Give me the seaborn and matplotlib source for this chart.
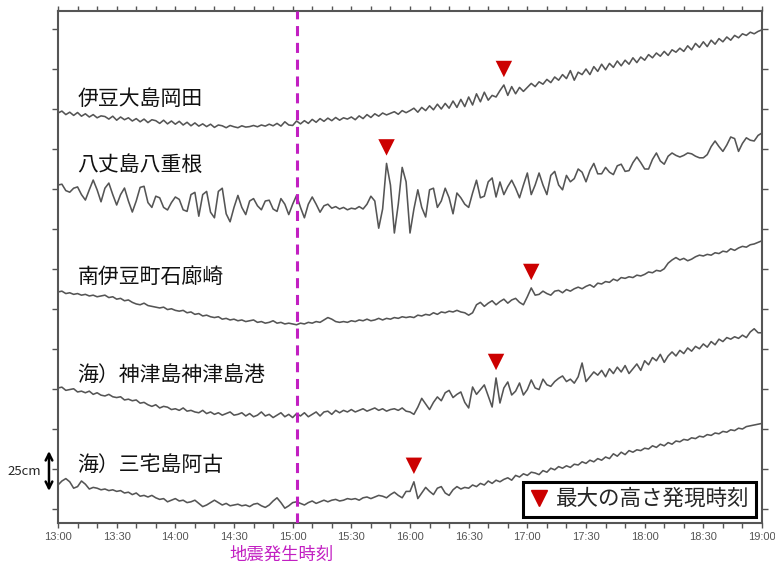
import numpy as np
import pandas as pd
import seaborn as sns
import matplotlib.pyplot as plt
from matplotlib.ticker import MultipleLocator
from matplotlib.lines import Line2D

# sample times: minutes after 13:00, every 2 minutes
minutes = np.arange(0, 361, 2)

stations = ["伊豆大島岡田", "八丈島八重根", "南伊豆町石廊崎", "海）神津島神津島港", "海）三宅島阿古"]

# tide level relative to 13:00 (cm)
okada = [
    0, 1.2, -1.0, 0.5, -1.5, 0.3, -2.0, -0.5, -2.5, -1.0, -3.0, -1.8, -2.2, -3.8, -2.0,
    -4.5, -2.5, -4.2, -3.0, -5.0, -3.5, -5.5, -3.8, -6.0, -4.2, -4.8, -6.5, -4.5, -6.8, -5.0,
    -7.0, -5.2, -7.5, -5.8, -8.0, -6.2, -8.2, -6.8, -8.5, -7.0, -9.0, -7.5, -8.0, -9.2, -7.8,
    -8.6, -9.2, -8.0, -8.8, -8.5, -7.8, -8.6, -7.5, -8.2, -7.0, -8.0, -6.5, -8.2, -5.5, -7.5,
    -7.8, -5.0, -6.8, -4.8, -6.5, -4.0, -5.8, -3.5, -5.2, -3.2, -4.8, -2.8, -4.5, -3.0, -3.8,
    -2.5, -4.2, -1.8, -3.5, -1.0, -2.8, -0.5, -2.0, 0.0, -1.2, -0.2, 0.8, -0.8, 1.5, 0.2,
    1.5, 3.0, 0.5, 3.5, 1.5, 4.5, 2.0, 5.5, 2.5, 6.0, 3.0, 7.5, 3.5, 8.5, 4.0,
    10.0, 5.0, 12.0, 7.0, 13.0, 8.0, 11.0, 10.0, 14.0, 17.5, 11.0, 16.5, 12.0, 16.0, 13.5,
    16.0, 18.5, 16.5, 19.5, 18.0, 21.0, 19.0, 22.5, 20.5, 24.0, 21.5, 26.5, 20.5, 25.5, 24.0,
    27.5, 24.0, 29.0, 26.0, 30.5, 27.0, 31.0, 28.5, 32.5, 29.5, 33.0, 30.5, 34.5, 31.5, 35.0,
    33.0, 36.5, 34.5, 37.5, 35.5, 38.5, 36.0, 39.5, 38.0, 40.5, 38.5, 42.0, 39.5, 43.5, 41.0,
    44.5, 41.5, 45.5, 43.0, 46.5, 44.5, 47.5, 45.5, 48.5, 47.0, 49.5, 48.5, 50.5, 49.5, 51.0,
    52.0,
]
yaene = [
    0, 0.5, -3.5, -4.5, -2.0, -1.2, -6.0, -9.4, -3.0, 3.1, -3.0, -10.5, -2.0, 1.2, -6.0,
    -12.5, -6.0, -1.9, -10.0, -16.9, -10.0, -1.5, -0.8, -11.0, -14.0, -7.0, -8.0, -14.0, -15.6, -11.0,
    -7.5, -9.0, -15.5, -16.5, -6.0, -4.6, -19.5, -6.0, -4.0, -17.0, -20.5, -4.0, -2.0, -18.0, -23.0,
    -14.0, -6.5, -14.0, -18.5, -10.0, -8.5, -13.0, -15.5, -10.0, -9.5, -15.0, -16.5, -8.5, -12.0, -18.5,
    -12.0, -6.5, -14.0, -20.5, -12.0, -7.5, -12.0, -17.0, -13.0, -12.0, -14.5, -13.5, -15.0, -14.0, -15.5,
    -14.5, -15.0, -13.5, -15.0, -12.0, -7.0, -10.0, -27.0, -15.0, 13.5, 0.0, -30.0, -12.0, 11.0, 2.0,
    -30.0, -15.0, -3.0, -14.0, -20.0, -3.0, -2.0, -14.0, -10.0, -2.0, -8.0, -18.0, -5.0, -8.0, -12.0,
    -14.0, -5.0, 3.0, -8.0, -7.0, 2.0, 4.4, -7.5, 1.9, -6.0, -1.0, 3.0, -2.0, -8.0, 0.0,
    7.5, -6.0, 0.0, 7.5, 0.0, -6.0, 6.0, 8.5, 0.0, -3.0, 6.0, 2.0, 4.0, 10.0, 8.0,
    2.0, 9.0, 13.5, 7.0, 7.0, 11.0, 8.0, 6.5, 12.0, 13.0, 8.5, 9.0, 14.0, 17.5, 14.0,
    10.0, 10.0, 16.0, 20.0, 15.0, 13.0, 18.0, 20.0, 18.5, 17.5, 18.5, 20.0, 19.5, 18.0, 17.0,
    17.0, 19.0, 24.0, 27.5, 24.0, 21.0, 25.0, 30.0, 29.0, 21.0, 26.0, 29.5, 28.0, 27.5, 31.0,
    32.5,
]
irozaki = [
    0, 0.5, -1.0, -0.5, -1.5, -1.0, -2.0, -1.5, -2.5, -2.0, -3.0, -2.5, -2.0, -3.5, -3.0,
    -4.5, -4.0, -5.5, -5.0, -6.5, -7.5, -8.0, -7.0, -8.5, -9.0, -9.5, -10.0, -9.5, -11.0, -10.5,
    -11.5, -12.0, -11.5, -13.0, -12.5, -14.0, -13.5, -15.0, -14.5, -15.5, -16.0, -15.5, -17.0, -16.5, -17.5,
    -17.0, -18.0, -17.5, -18.5, -18.0, -17.5, -19.0, -18.5, -19.5, -19.0, -18.0, -19.5, -19.0, -20.0, -19.5,
    -20.0, -20.5, -19.5, -20.0, -19.0, -19.5, -18.5, -19.0, -17.5, -16.0, -17.0, -18.5, -19.0, -18.5, -19.0,
    -18.0, -18.5, -17.5, -18.0, -17.0, -18.0, -17.5, -16.5, -17.5, -16.5, -17.0, -16.0, -16.5, -15.5, -16.0,
    -15.5, -16.0, -14.5, -15.0, -14.0, -14.5, -13.0, -14.0, -12.5, -13.0, -12.0, -12.5, -11.5, -12.5, -13.0,
    -14.5, -13.0, -8.0, -6.5, -9.0, -7.0, -5.5, -8.0, -6.0, -4.5, -7.0, -5.0, -4.0, -6.5, -8.0,
    -3.0, 2.5, -2.0, -1.5, 0.5, -1.0, -2.0, 0.5, 1.0, -0.5, 1.5, 0.5, 2.0, 3.0, 2.0,
    3.5, 4.5, 3.0, 5.5, 5.0, 6.5, 6.0, 8.0, 7.0, 9.0, 8.5, 9.5, 9.0, 10.5, 10.0,
    11.0, 12.5, 12.0, 13.5, 13.0, 14.5, 18.0, 20.0, 21.5, 20.0, 21.0, 19.5, 20.5, 22.0, 23.0,
    22.5, 23.5, 23.0, 24.5, 24.0, 25.5, 25.0, 27.0, 26.0, 27.5, 28.5, 28.0, 29.5, 30.0, 31.0,
    32.0,
]
kozushima = [
    0, 0.5, -1.5, -1.0, -0.5, -2.5, -2.0, -3.0, -2.0, -4.0, -3.0, -4.5, -5.0, -4.0, -5.5,
    -6.0, -5.5, -7.5, -7.0, -8.0, -7.5, -9.5, -9.0, -10.5, -11.5, -10.5, -12.5, -11.5, -12.0, -13.5,
    -13.0, -14.0, -12.5, -14.5, -14.0, -15.0, -15.5, -14.0, -16.0, -15.0, -16.5, -15.5, -17.0, -16.0, -15.0,
    -17.0, -16.5, -15.5, -17.5, -16.0, -18.0, -17.0, -15.0, -17.5, -16.5, -18.5, -17.0, -15.5, -18.0, -16.5,
    -18.5, -16.0, -17.5, -15.5, -18.0, -16.5, -15.0, -17.5, -15.0, -14.5, -16.5, -14.0, -15.5, -14.0, -15.0,
    -13.5, -15.0, -14.0, -13.0, -14.5, -13.5, -12.5, -14.0, -13.0, -14.5, -13.5, -13.0, -14.0, -12.5, -14.5,
    -15.0, -16.5, -12.0, -6.5, -10.0, -13.5, -9.0, -5.6, -8.0, -3.0, -1.5, -6.0, -4.0, -2.5, -9.0,
    -12.5, 0.6, -4.0, -1.0, 1.9, -5.0, -11.9, 6.25, -9.4, 0.0, 3.75, -4.4, -2.0, 3.1, -4.4,
    -1.0, 5.0, 0.0, -1.0, 5.5, 2.0, 1.0, 4.0, 6.0, 7.5, 4.0, 5.5, 3.0, 7.0, 15.6,
    4.0, 7.0, 10.0, 8.0, 11.0, 7.0, 12.0, 9.0, 13.0, 10.0, 14.0, 9.0, 12.0, 15.0, 11.0,
    17.0, 14.5, 19.0, 17.0, 21.0, 16.0, 20.0, 22.5, 20.0, 23.5, 21.5, 25.0, 23.0, 26.0, 24.5,
    27.5, 25.5, 29.0, 27.0, 30.5, 29.0, 31.5, 30.5, 32.0, 31.0, 33.0, 31.5, 35.0, 37.0, 34.5,
    34.5,
]
ako = [
    0, 2.5, 4.0, 2.0, -2.0, -1.0, 2.5, 0.5, -2.5, -1.5, -2.0, -3.0, -2.5, -3.5, -3.0,
    -4.0, -3.5, -5.0, -4.5, -6.0, -5.0, -7.0, -6.5, -7.5, -6.5, -8.0, -9.0, -8.5, -10.5, -9.5,
    -8.5, -10.0, -9.5, -11.0, -10.5, -9.5, -11.5, -13.5, -12.5, -11.0, -9.5, -11.0, -12.5, -11.5, -13.0,
    -12.5, -12.0, -13.0, -12.5, -13.5, -12.0, -11.5, -13.0, -14.0, -12.5, -10.0, -8.0, -11.0, -14.5, -13.0,
    -11.0, -10.5, -11.5, -12.5, -11.0, -10.0, -11.5, -10.5, -9.5, -10.5, -9.5, -9.0, -10.0, -9.5, -8.5,
    -9.0, -8.5, -9.5, -8.0, -7.5, -8.5, -7.5, -6.5, -7.0, -8.0, -6.0, -4.5, -6.5, -8.0, -4.0,
    -4.0, 2.0, -8.5, -5.0, -1.5, -4.0, -6.0, -2.0, -1.0, -5.0, -6.5, -3.0, -1.0, -2.5, -1.5,
    -2.0, 0.0, -1.0, 1.0, 0.0, 2.5, 1.0, 3.0, 2.0, 3.5, 4.5, 3.0, 6.0, 5.0, 7.0,
    6.0, 8.0, 7.5, 6.5, 9.0, 8.0, 10.5, 9.5, 11.5, 10.5, 12.0, 11.0, 13.0, 12.5, 14.5,
    13.5, 15.5, 14.5, 16.5, 15.5, 17.5, 16.5, 19.5, 18.0, 20.5, 19.0, 21.5, 20.5, 22.0, 21.5,
    23.0, 22.5, 24.5, 23.5, 25.5, 24.5, 26.5, 25.5, 27.5, 27.0, 28.5, 28.0, 29.5, 29.0, 30.5,
    30.0, 31.5, 31.0, 32.5, 32.0, 33.5, 33.0, 34.5, 34.0, 35.5, 35.0, 36.5, 37.0, 37.5, 38.0,
    38.5,
]
series = [okada, yaene, irozaki, kozushima, ako]

# time of the largest wave (minutes after 13:00)
peak_minutes = [228, 168, 242, 224, 182]
quake_minute = 122

time_labels = ["13:00", "13:30", "14:00", "14:30", "15:00", "15:30", "16:00",
               "16:30", "17:00", "17:30", "18:00", "18:30", "19:00"]

# vertical stacking of the records (cm) and label heights
offsets = [256.25, 211.25, 144.4, 84.4, 23.75]
label_y = [265, 224, 154, 92.5, 36]

sns.set_style("ticks")
plt.rcParams['font.family'] = ['Noto Sans CJK JP', 'DejaVu Sans']

fig = plt.figure(figsize=(7.75, 5.65), dpi=100)
ax = fig.add_axes([58 / 775, 42 / 565, 704 / 775, 512 / 565])

frames = []
for name, levels, off in zip(stations, series, offsets):
    frames.append(pd.DataFrame({"minute": minutes, "level": np.array(levels) + off, "station": name}))
df = pd.concat(frames, ignore_index=True)

sns.lineplot(data=df, x="minute", y="level", units="station", estimator=None,
             color="#555555", lw=1.15, sort=False, ax=ax,
             solid_joinstyle="round")

peak_y = []
for levels, off, m in zip(series, offsets, peak_minutes):
    peak_y.append(np.array(levels)[minutes == m][0] + off + 10)
sns.scatterplot(x=peak_minutes, y=peak_y, marker="v", s=140, color="#cc0000",
                edgecolor="none", ax=ax, zorder=5)

for name, y in zip(stations, label_y):
    ax.text(10, y, name, fontsize=15, va="center", ha="left", color="#111111")

ax.axvline(quake_minute, color="#c21fc2", lw=2.2, ls=(0, (3.3, 2.2)), zorder=4)
ax.text(114.5, -0.063, "地震発生時刻", transform=ax.get_xaxis_transform(),
        ha="center", va="center", color="#c21fc2", fontsize=12.5)

# 25 cm scale bar
ax.annotate("", xy=(-0.0128, 20), xytext=(-0.0128, 45),
            xycoords=ax.get_yaxis_transform(), textcoords=ax.get_yaxis_transform(),
            arrowprops=dict(arrowstyle="<->", lw=1.8, color="black", shrinkA=0, shrinkB=0,
                            mutation_scale=12),
            annotation_clip=False)
ax.text(-0.048, 32, "25cm", transform=ax.get_yaxis_transform(), ha="center", va="center",
        fontsize=9.5)

ax.set_xlim(0, 360)
ax.set_ylim(0, 320)
ax.set_xticks(np.arange(0, 361, 30))
ax.set_xticklabels(time_labels, fontsize=8, color="#555555", family="Liberation Sans")
ax.xaxis.set_minor_locator(MultipleLocator(10))
ax.set_yticks(np.arange(8.75, 320, 25))
ax.set_yticklabels([])
ax.tick_params(axis="x", which="both", top=True, direction="out", length=3.5,
               width=1, color="#555555", pad=3)
ax.tick_params(axis="y", left=True, right=True, direction="out", length=4,
               width=1, color="#555555")
ax.set_xlabel("")
ax.set_ylabel("")
for sp in ax.spines.values():
    sp.set_color("#555555")
    sp.set_linewidth(1.5)

handle = Line2D([], [], marker="v", color="#cc0000", ls="none", markersize=12)
leg = ax.legend([handle], ["最大の高さ発現時刻"], loc="lower right", fontsize=15.5,
                frameon=True, fancybox=False, edgecolor="black", framealpha=1,
                borderaxespad=0.3, handletextpad=0.3, handlelength=0.9, borderpad=0.3)
leg.get_frame().set_linewidth(2.2)

fig.savefig("out.png", dpi=100)
